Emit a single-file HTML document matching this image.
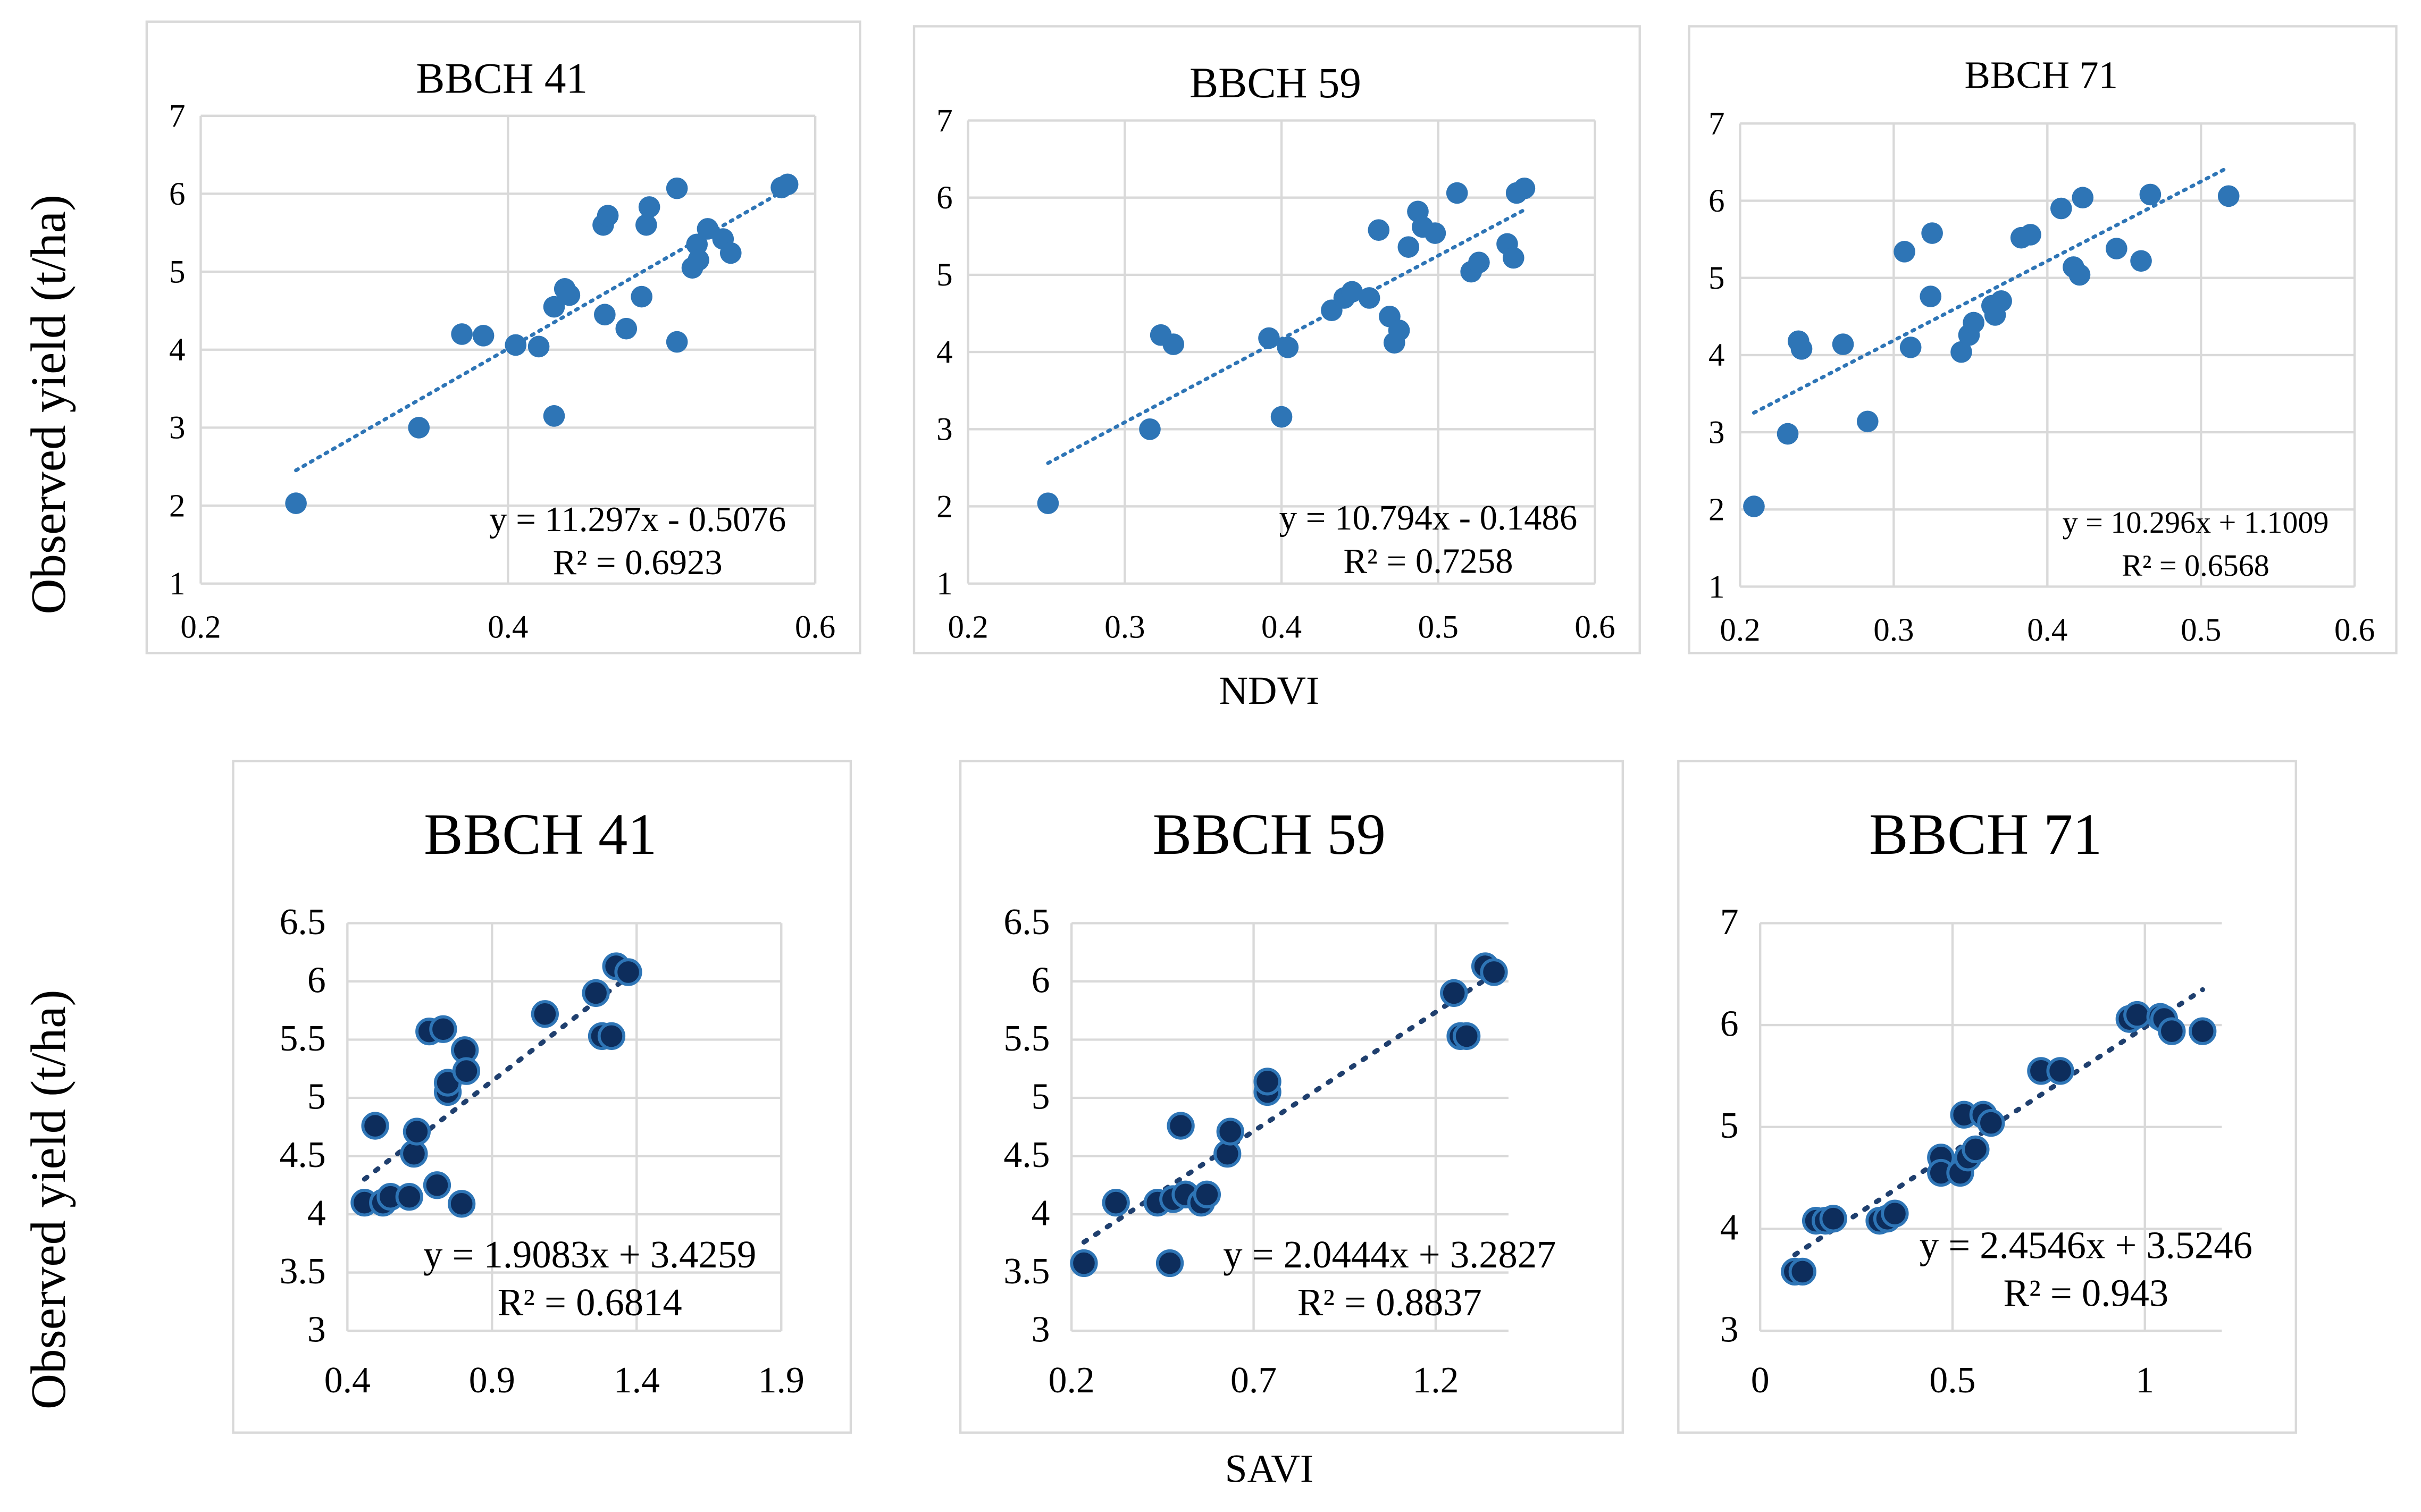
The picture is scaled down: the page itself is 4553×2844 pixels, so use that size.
<!DOCTYPE html>
<html><head><meta charset="utf-8"><style>
html,body{margin:0;padding:0;background:#fff;}
svg{display:block;font-family:"Liberation Serif",serif;}
</style></head><body>
<svg id="fig" width="4553" height="2844" viewBox="0 0 1568 979.4" xmlns="http://www.w3.org/2000/svg" font-family="Liberation Serif, serif">
<rect x="0" y="0" width="1568" height="980" fill="#fff"/>
<text x="0" y="0" transform="translate(42,262) rotate(-90)" text-anchor="middle" font-size="32" fill="#000">Observed yield (t/ha)</text>
<text x="0" y="0" transform="translate(42,777) rotate(-90)" text-anchor="middle" font-size="32" fill="#000">Observed yield (t/ha)</text>
<text x="822" y="456" text-anchor="middle" font-size="26">NDVI</text>
<text x="822" y="960" text-anchor="middle" font-size="26">SAVI</text>
<g id="charts"></g>
</svg>
<script>
// ---- data ----
const ndvi41X=[0.262,0.342,0.370,0.384,0.405,0.420,0.430,0.430,0.437,0.440,0.462,0.465,0.463,0.477,0.487,0.490,0.492,0.510,0.510,0.520,0.523,0.524,0.530,0.540,0.545,0.578,0.582];
const ndvi41Y=[2.03,3.0,4.2,4.18,4.06,4.04,4.55,3.15,4.78,4.7,5.6,5.72,4.45,4.27,4.68,5.6,5.83,6.07,4.1,5.05,5.35,5.15,5.55,5.42,5.24,6.08,6.12];
const ndvi59X=[0.251,0.316,0.323,0.331,0.392,0.400,0.404,0.432,0.440,0.445,0.456,0.462,0.469,0.472,0.475,0.481,0.487,0.490,0.498,0.512,0.521,0.526,0.544,0.548,0.550,0.555];
const ndvi59Y=[2.04,3.0,4.22,4.1,4.18,3.16,4.06,4.54,4.7,4.78,4.7,5.58,4.46,4.12,4.28,5.36,5.82,5.62,5.54,6.06,5.04,5.16,5.4,5.22,6.06,6.12];
const ndvi71X=[0.209,0.231,0.238,0.240,0.267,0.283,0.307,0.311,0.324,0.325,0.344,0.349,0.352,0.364,0.366,0.370,0.383,0.389,0.409,0.417,0.421,0.423,0.445,0.461,0.467,0.518];
const ndvi71Y=[2.04,2.98,4.18,4.08,4.14,3.14,5.34,4.1,4.76,5.58,4.04,4.26,4.42,4.64,4.52,4.7,5.52,5.56,5.9,5.14,5.04,6.04,5.38,5.22,6.08,6.06];
const savi41X=[0.459,0.496,0.523,0.549,0.614,0.630,0.640,0.683,0.710,0.731,0.747,0.747,0.795,0.806,0.811,1.083,1.259,1.280,1.313,1.329,1.371];
const savi41Y=[4.1,4.76,4.1,4.15,4.15,4.52,4.71,5.57,4.25,5.59,5.05,5.13,4.09,5.41,5.23,5.72,5.9,5.53,5.53,6.13,6.08];
const savi59X=[0.234,0.322,0.436,0.470,0.479,0.500,0.513,0.556,0.572,0.628,0.636,0.738,0.738,1.250,1.268,1.285,1.336,1.360];
const savi59Y=[3.58,4.1,4.1,3.58,4.13,4.76,4.17,4.1,4.17,4.52,4.71,5.05,5.14,5.9,5.53,5.53,6.13,6.08];
const savi71X=[0.09,0.11,0.145,0.17,0.19,0.31,0.33,0.35,0.47,0.47,0.52,0.53,0.54,0.56,0.58,0.60,0.73,0.78,0.96,0.98,1.04,1.05,1.07,1.15];
const savi71Y=[3.58,3.58,4.08,4.08,4.1,4.08,4.1,4.15,4.7,4.55,4.55,5.12,4.7,4.78,5.12,5.04,5.55,5.55,6.06,6.1,6.08,6.06,5.94,5.94];
const slopes=[11.297,10.794,10.296,1.9083,2.0444,2.4546];
const intercepts=[-0.5076,-0.1486,1.1009,3.4259,3.2827,3.5246];
const eqLabels=["y = 11.297x - 0.5076","y = 10.794x - 0.1486","y = 10.296x + 1.1009","y = 1.9083x + 3.4259","y = 2.0444x + 3.2827","y = 2.4546x + 3.5246"];
const r2Labels=["R² = 0.6923","R² = 0.7258","R² = 0.6568","R² = 0.6814","R² = 0.8837","R² = 0.943"];
const titles=["BBCH 41","BBCH 59","BBCH 71","BBCH 41","BBCH 59","BBCH 71"];
const xTicksTop=[0.2,0.3,0.4,0.5,0.6];
const xTicks41=[0.4,0.9,1.4,1.9];
const xTicks59=[0.2,0.7,1.2];
const xTicks71=[0,0.5,1];
const yTicksTop=[1,2,3,4,5,6,7];
const yTicksB=[3,3.5,4,4.5,5,5.5,6,6.5];
const yTicksB71=[3,4,5,6,7];

const NS="http://www.w3.org/2000/svg";
const root=document.getElementById('charts');
function mk(tag,attrs,parent){const e=document.createElementNS(NS,tag);for(const k in attrs)e.setAttribute(k,attrs[k]);(parent||root).appendChild(e);return e;}

const panels=[
 {box:[95,14,462,409],L:130,R:528,T:75,B:378,xmin:0.2,xmax:0.6,ymin:1,ymax:7,xt:[0.2,0.4,0.6],yt:yTicksTop,xs:ndvi41X,ys:ndvi41Y,title:[325,60,28],eq:[413,344],top:true},
 {box:[592,17,470,406],L:627,R:1033,T:78,B:378,xmin:0.2,xmax:0.6,ymin:1,ymax:7,xt:xTicksTop,yt:yTicksTop,xs:ndvi59X,ys:ndvi59Y,title:[826,63,28],eq:[925,343],top:true},
 {box:[1094,17,458,406],L:1127,R:1525,T:80,B:380,xmin:0.2,xmax:0.6,ymin:1,ymax:7,xt:xTicksTop,yt:yTicksTop,xs:ndvi71X,ys:ndvi71Y,title:[1322,57,25],eq:[1422,345],top:true,small:true},
 {box:[151,493,400,435],L:225,R:506,T:598,B:862,xmin:0.4,xmax:1.9,ymin:3,ymax:6.5,xt:xTicks41,yt:yTicksB,xs:savi41X,ys:savi41Y,title:[350,553,38],eq:[382,821]},
 {box:[622,493,429,435],L:694,R:977,T:598,B:862,xmin:0.2,xmax:1.4,ymin:3,ymax:6.5,xt:xTicks59,yt:yTicksB,xs:savi59X,ys:savi59Y,title:[822,553,38],eq:[900,821]},
 {box:[1087,493,400,435],L:1140,R:1439,T:598,B:862,xmin:0,xmax:1.2,ymin:3,ymax:7,xt:xTicks71,yt:yTicksB71,xs:savi71X,ys:savi71Y,title:[1286,553,38],eq:[1351,815]}
];
const pNames=['ndvi-bbch41','ndvi-bbch59','ndvi-bbch71','savi-bbch41','savi-bbch59','savi-bbch71'];
panels.forEach((p,i)=>{
  const g=mk('g',{});
  
  
  const sx=v=>p.L+(v-p.xmin)/(p.xmax-p.xmin)*(p.R-p.L);
  const sy=v=>p.B-(v-p.ymin)/(p.ymax-p.ymin)*(p.B-p.T);
  const frame=mk('rect',{x:p.box[0],y:p.box[1],width:p.box[2],height:p.box[3],fill:'#fff',stroke:'#d9d9d9','stroke-width':1.5},g);
  
  
  const t=mk('text',{x:p.title[0],y:p.title[1],'text-anchor':'middle','font-size':p.title[2]},g);
  t.textContent=titles[i];
  
  
  const tfs=p.top?21:24;
  p.yt.forEach(v=>{
    const l=mk('line',{x1:p.L,x2:p.R,y1:sy(v),y2:sy(v),stroke:'#d9d9d9','stroke-width':1.5},g);
    
    
    const tx=mk('text',{x:p.L-(p.top?10:14),y:sy(v)+7,'text-anchor':'end','font-size':tfs},g);
    tx.textContent=String(v);
    
    
  });
  p.xt.forEach(v=>{
    const l=mk('line',{x1:sx(v),x2:sx(v),y1:p.T,y2:p.B,stroke:'#d9d9d9','stroke-width':1.5},g);
    
    
    const tx=mk('text',{x:sx(v),y:p.B+(p.top?35:40),'text-anchor':'middle','font-size':tfs},g);
    tx.textContent=String(v);
    
    
  });
  let x0=Math.min(...p.xs),x1=Math.max(...p.xs);
  const tl=mk('line',{x1:sx(x0),y1:sy(slopes[i]*x0+intercepts[i]),x2:sx(x1),y2:sy(slopes[i]*x1+intercepts[i]),stroke:p.top?'#2e75b6':'#1f3f6e','stroke-width':p.top?2.4:3.2,'stroke-dasharray':p.top?'1.5 4':'2 7','stroke-linecap':'round'},g);
  
  
  p.xs.forEach((xv,j)=>{
    const c=mk('circle',{cx:sx(xv),cy:sy(p.ys[j]),r:p.top?7:8,fill:p.top?'#2e75b6':'#0d2d5c',stroke:p.top?'none':'#2e75b6','stroke-width':p.top?0:2},g);
    
    
  });
  const fs=p.top?(p.small?20:23):25;
  const e=mk('text',{x:p.eq[0],y:p.eq[1],'text-anchor':'middle','font-size':fs},g);
  e.textContent=eqLabels[i];
  
  
  const r=mk('text',{x:p.eq[0],y:p.eq[1]+(p.top?28:31),'text-anchor':'middle','font-size':fs},g);
  r.textContent=r2Labels[i];
  
  
});
</script>
</body></html>
